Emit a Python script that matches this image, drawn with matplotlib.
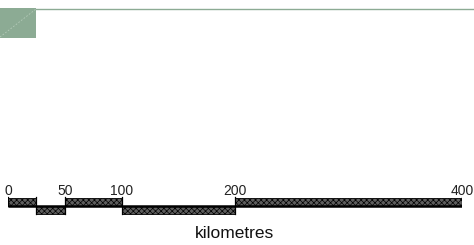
import matplotlib
matplotlib.use("Agg")
import matplotlib.pyplot as plt
from matplotlib.patches import Rectangle

# scale bar data (km)
edges = [0, 25, 50, 100, 200, 400]
raised = [True, False, True, False, True]
tick_labels = [0, 50, 100, 200, 400]
unit = "kilometres"

W, H = 474, 245
plt.rcParams["font.family"] = ["Liberation Sans", "DejaVu Sans"]
plt.rcParams["hatch.linewidth"] = 0.5
plt.rcParams["hatch.color"] = "#262626"

fig = plt.figure(figsize=(W / 100, H / 100), dpi=100)

# decoration: green block and rule at the top, in pixel coords
deco = fig.add_axes([0, 0, 1, 1])
deco.set_xlim(0, W)
deco.set_ylim(H, 0)
deco.axis("off")
deco.add_patch(Rectangle((0, 8), 36, 30, facecolor="#8cab94", edgecolor="none"))
deco.plot([0, 36], [37, 9], color="#b5cbb9", lw=0.6, ls=(0, (2, 2)))
deco.plot([36, 473], [9, 9], color="#8cab94", lw=1.0)

# scale bar axes: x in km, y in pixels
ax = fig.add_axes([8 / W, 0, 454 / W, 1])
ax.set_xlim(0, 400)
ax.set_ylim(H, 0)
ax.axis("off")

for (a, b), up in zip(zip(edges[:-1], edges[1:]), raised):
    y0, y1 = (198, 206) if up else (206, 214)
    ax.add_patch(Rectangle((a, y0), b - a, y1 - y0, facecolor="#5e5e5e",
                           edgecolor="black", lw=0.6, hatch="xxxxxx"))
ax.plot([0, 400], [206.2, 206.2], color="black", lw=1.8, solid_capstyle="butt")

for x in edges:
    bottom = 206 if x in (0, 400) else 214
    ax.plot([x, x], [196.5, bottom], color="black", lw=0.9)

for x in tick_labels:
    ax.text(x, 195, str(x), ha="center", va="baseline", fontsize=10, color="#222222")

ax.text(235 / 1.135 - 8 / 1.135, 238, unit, ha="center", va="baseline",
        fontsize=12.5, color="#111111")

fig.savefig("out.png", dpi=100)
